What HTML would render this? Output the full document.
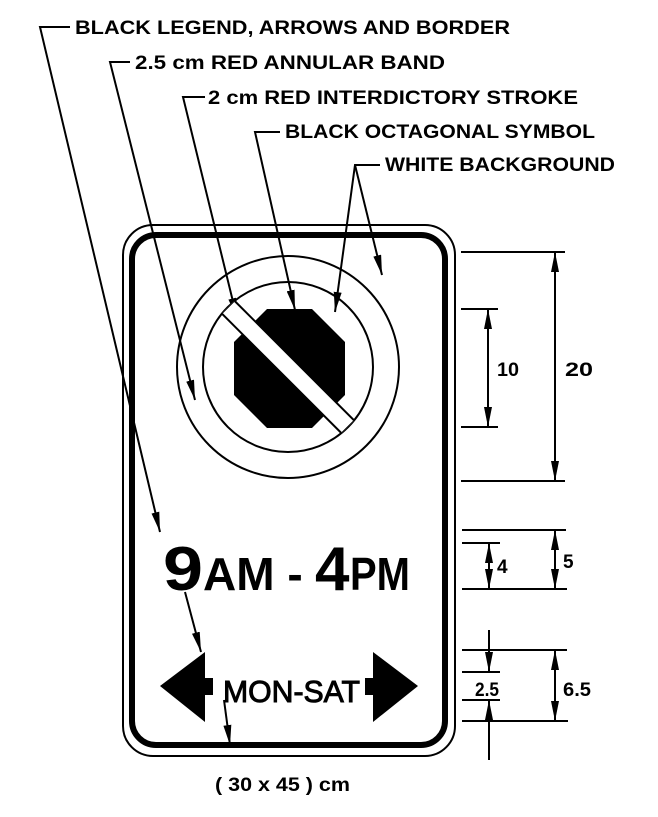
<!DOCTYPE html>
<html><head><meta charset="utf-8"><style>
html,body{margin:0;padding:0;background:#fff;}
svg{display:block}
text{font-family:"Liberation Sans",sans-serif;font-weight:bold;fill:#000}
</style></head><body>
<svg width="658" height="817" viewBox="0 0 658 817" xmlns="http://www.w3.org/2000/svg">
<defs>
<marker id="a" viewBox="0 0 20 8" refX="20" refY="4" markerWidth="20" markerHeight="8" markerUnits="userSpaceOnUse" orient="auto"><path d="M0,0 L20,4 L0,8 Z" fill="#000"/></marker>
<clipPath id="ci"><circle cx="288" cy="367" r="85"/></clipPath>
</defs>
<!-- labels -->
<g font-size="19" lengthAdjust="spacingAndGlyphs">
<text x="75" y="34" textLength="435" lengthAdjust="spacingAndGlyphs">BLACK LEGEND, ARROWS AND BORDER</text>
<text x="135" y="69" textLength="310" lengthAdjust="spacingAndGlyphs">2.5 cm RED ANNULAR BAND</text>
<text x="208" y="104" textLength="370" lengthAdjust="spacingAndGlyphs">2 cm RED INTERDICTORY STROKE</text>
<text x="285" y="138" textLength="310" lengthAdjust="spacingAndGlyphs">BLACK OCTAGONAL SYMBOL</text>
<text x="385" y="171" textLength="230" lengthAdjust="spacingAndGlyphs">WHITE BACKGROUND</text>
</g>
<g stroke="#000" stroke-width="2" fill="none">
<polyline points="70,27 40,27 160,532" marker-end="url(#a)"/>
<line x1="185" y1="592" x2="201" y2="652" marker-end="url(#a)"/>
<line x1="224" y1="700" x2="230" y2="745" marker-end="url(#a)"/>
<polyline points="130,62 110,62 195,400" marker-end="url(#a)"/>
<polyline points="205,97 183,97 237,318" marker-end="url(#a)"/>
<polyline points="280,132 255,132 295,310" marker-end="url(#a)"/>
<polyline points="380,165 355,165 335,312" marker-end="url(#a)"/>
<line x1="355" y1="165" x2="382" y2="275" marker-end="url(#a)"/>
</g>
<!-- sign -->
<rect x="123" y="225" width="332" height="531" rx="30" fill="none" stroke="#000" stroke-width="2"/>
<rect x="132" y="235" width="313" height="510" rx="24" fill="none" stroke="#000" stroke-width="6"/>
<circle cx="288" cy="367" r="111" fill="none" stroke="#000" stroke-width="2"/>
<circle cx="288" cy="367" r="85" fill="none" stroke="#000" stroke-width="2"/>
<polygon points="267,309 312,309 345,342 345,395 312,428 267,428 234,395 234,342" fill="#000"/>
<g clip-path="url(#ci)">
<rect x="203" y="358" width="170" height="18" fill="#fff" stroke="#000" stroke-width="2" transform="rotate(45 288 367)"/>
</g>
<!-- legend -->
<text x="163" y="590" font-size="62" textLength="40" lengthAdjust="spacingAndGlyphs">9</text>
<text x="203" y="590" font-size="46">AM - </text>
<text x="315" y="590" font-size="62">4</text>
<text x="350" y="590" font-size="46" textLength="60" lengthAdjust="spacingAndGlyphs">PM</text>
<text x="223" y="702" font-size="31" textLength="137" lengthAdjust="spacingAndGlyphs" style="font-weight:normal;stroke:#000;stroke-width:1">MON-SAT</text>
<path d="M160,686 L205,652 L205,678 L213,678 L213,695 L205,695 L205,722 Z" fill="#000"/>
<path d="M418,686 L373,652 L373,678 L365,678 L365,695 L373,695 L373,722 Z" fill="#000"/>
<!-- dimensions -->
<g stroke="#000" stroke-width="2" fill="none">
<line x1="461" y1="252" x2="565" y2="252"/>
<line x1="461" y1="481" x2="565" y2="481"/>
<line x1="461" y1="309" x2="498" y2="309"/>
<line x1="461" y1="427" x2="498" y2="427"/>
<line x1="488" y1="368" x2="488" y2="309" marker-end="url(#a)"/>
<line x1="488" y1="368" x2="488" y2="427" marker-end="url(#a)"/>
<line x1="555" y1="368" x2="555" y2="252" marker-end="url(#a)"/>
<line x1="555" y1="368" x2="555" y2="481" marker-end="url(#a)"/>
<line x1="462" y1="530" x2="566" y2="530"/>
<line x1="462" y1="543" x2="500" y2="543"/>
<line x1="462" y1="589" x2="567" y2="589"/>
<line x1="489" y1="566" x2="489" y2="543" marker-end="url(#a)"/>
<line x1="489" y1="566" x2="489" y2="589" marker-end="url(#a)"/>
<line x1="555" y1="560" x2="555" y2="530" marker-end="url(#a)"/>
<line x1="555" y1="560" x2="555" y2="589" marker-end="url(#a)"/>
<line x1="462" y1="650" x2="567" y2="650"/>
<line x1="462" y1="672" x2="500" y2="672"/>
<line x1="462" y1="700" x2="500" y2="700"/>
<line x1="462" y1="721" x2="568" y2="721"/>
<line x1="489" y1="630" x2="489" y2="672" marker-end="url(#a)"/>
<line x1="489" y1="760" x2="489" y2="700" marker-end="url(#a)"/>
<line x1="555" y1="686" x2="555" y2="650" marker-end="url(#a)"/>
<line x1="555" y1="686" x2="555" y2="721" marker-end="url(#a)"/>
</g>
<g font-size="19">
<text x="497" y="376" textLength="22" lengthAdjust="spacingAndGlyphs">10</text>
<text x="565" y="376" textLength="28" lengthAdjust="spacingAndGlyphs">20</text>
<text x="497" y="573">4</text>
<text x="563" y="568">5</text>
<text x="475" y="696" textLength="24" lengthAdjust="spacingAndGlyphs">2.5</text>
<text x="563" y="696" textLength="28" lengthAdjust="spacingAndGlyphs">6.5</text>
<text x="215" y="791" textLength="135" lengthAdjust="spacingAndGlyphs">( 30 x 45 ) cm</text>
</g>
</svg>
</body></html>
